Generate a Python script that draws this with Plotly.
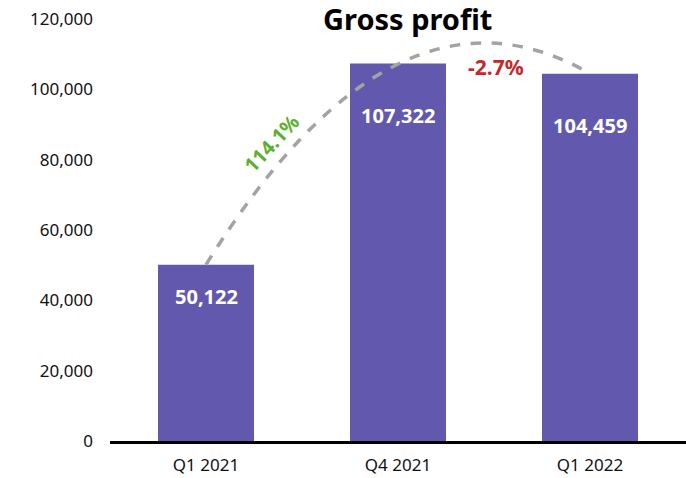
import plotly.graph_objects as go

categories = ["Q1 2021", "Q4 2021", "Q1 2022"]
gross_profit = [50122, 107322, 104459]
bar_labels = ["50,122", "107,322", "104,459"]
label_shift = [-32, -52, -52]
change_labels = ["114.1%", "-2.7%"]

bar_color = "#6259AF"
x_pos = list(range(len(categories)))

fig = go.Figure()
fig.add_trace(go.Bar(x=x_pos, y=gross_profit, width=0.5, marker=dict(color=bar_color, line=dict(width=0)),
                     hoverinfo="skip"))

# bar value labels inside the top of each bar
for xi, val, txt, sh in zip(x_pos, gross_profit, bar_labels, label_shift):
    fig.add_annotation(x=xi, y=val, text=txt, showarrow=False, yshift=sh,
                       font=dict(family="Noto Sans", size=20, color="white", weight="bold"))

# dashed arc from first bar to last bar
x0, y0 = x_pos[0], gross_profit[0]
x2, y2 = x_pos[-1], gross_profit[-1]
cx, cy = 0.984, 136650  # bezier control point
fig.add_shape(type="path", xref="x", yref="y",
              path=f"M {x0},{y0} Q {cx},{cy} {x2},{y2}",
              line=dict(color="#a3a3a3", width=3.5, dash="dash"))

fig.add_annotation(x=0.34, y=84500, text=change_labels[0], showarrow=False, textangle=-47,
                   font=dict(family="Noto Sans", size=20, color="#5BB030", weight="bold"))
fig.add_annotation(x=1.51, y=106300, text=change_labels[1], showarrow=False,
                   font=dict(family="Noto Sans", size=21, color="#C3282D", weight="bold"))

fig.add_annotation(x=0.516, y=1, xref="paper", yref="paper", text="Gross profit", showarrow=False,
                   yanchor="middle", yshift=1,
                   font=dict(family="Noto Sans", size=29, color="black", weight="bold"))

fig.update_layout(
    width=686, height=478,
    margin=dict(l=110, r=0, t=19, b=37),
    plot_bgcolor="white", paper_bgcolor="white",
    showlegend=False,
    font=dict(family="Noto Sans", size=17, color="#111111"),
    xaxis=dict(range=[-0.5, 2.5], tickvals=x_pos, ticktext=categories, showgrid=False,
               zeroline=False, showline=True, linecolor="black", linewidth=2.5,
               ticks="", ticklabelstandoff=7, fixedrange=True, automargin=False),
    yaxis=dict(range=[0, 120000], tickvals=[0, 20000, 40000, 60000, 80000, 100000, 120000],
               tickformat=",d", showgrid=False, zeroline=False, showline=False, ticks="",
               ticklabelstandoff=16, fixedrange=True, automargin=False,
               ticklabeloverflow="allow"),
)

# drop the default 8px body margin so the figure fills the window
fig.write_html("out.html", config={"displayModeBar": False},
               post_script="document.body.style.margin='0';")
